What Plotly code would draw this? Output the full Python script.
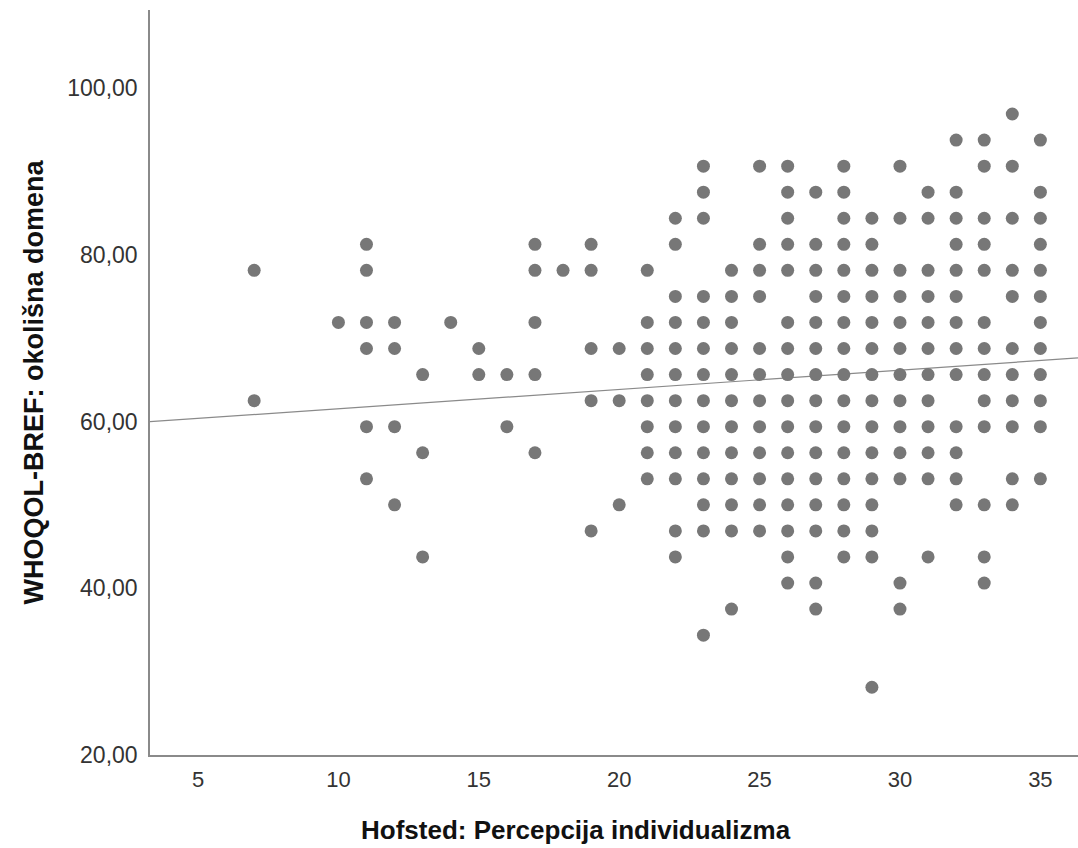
import plotly.graph_objects as go

# Hofsted individualism score (x) -> WHOQOL-BREF environment domain scores (y)
col_07 = [78.125, 62.5]
col_10 = [71.875]
col_11 = [81.25, 78.125, 71.875, 68.75, 59.375, 53.125]
col_12 = [71.875, 68.75, 59.375, 50]
col_13 = [65.625, 56.25, 43.75]
col_14 = [71.875]
col_15 = [68.75, 65.625]
col_16 = [65.625, 59.375]
col_17 = [81.25, 78.125, 71.875, 65.625, 56.25]
col_18 = [78.125]
col_19 = [81.25, 78.125, 68.75, 62.5, 46.875]
col_20 = [68.75, 62.5, 50]
col_21 = [78.125, 71.875, 68.75, 65.625, 62.5, 59.375, 56.25, 53.125]
col_22 = [84.375, 81.25, 75, 71.875, 68.75, 65.625, 62.5, 59.375, 56.25, 53.125, 46.875, 43.75]
col_23 = [90.625, 87.5, 84.375, 75, 71.875, 68.75, 65.625, 62.5, 59.375, 56.25, 53.125, 50, 46.875, 34.375]
col_24 = [78.125, 75, 71.875, 68.75, 65.625, 62.5, 59.375, 56.25, 53.125, 50, 46.875, 37.5]
col_25 = [90.625, 81.25, 78.125, 75, 68.75, 65.625, 62.5, 59.375, 56.25, 53.125, 50, 46.875]
col_26 = [90.625, 87.5, 84.375, 81.25, 78.125, 71.875, 68.75, 65.625, 62.5, 59.375, 56.25, 53.125, 50, 46.875, 43.75, 40.625]
col_27 = [87.5, 81.25, 78.125, 75, 71.875, 68.75, 65.625, 62.5, 59.375, 56.25, 53.125, 50, 46.875, 40.625, 37.5]
col_28 = [90.625, 87.5, 84.375, 81.25, 78.125, 75, 71.875, 68.75, 65.625, 62.5, 59.375, 56.25, 53.125, 50, 46.875, 43.75]
col_29 = [84.375, 81.25, 78.125, 75, 71.875, 68.75, 65.625, 62.5, 59.375, 56.25, 53.125, 50, 46.875, 43.75, 28.125]
col_30 = [90.625, 84.375, 78.125, 75, 71.875, 68.75, 65.625, 62.5, 59.375, 56.25, 53.125, 40.625, 37.5]
col_31 = [87.5, 84.375, 78.125, 75, 71.875, 68.75, 65.625, 62.5, 59.375, 56.25, 53.125, 43.75]
col_32 = [93.75, 87.5, 84.375, 81.25, 78.125, 75, 71.875, 68.75, 65.625, 59.375, 56.25, 53.125, 50]
col_33 = [93.75, 90.625, 84.375, 81.25, 78.125, 71.875, 68.75, 65.625, 62.5, 59.375, 50, 43.75, 40.625]
col_34 = [96.875, 90.625, 84.375, 78.125, 75, 68.75, 65.625, 62.5, 59.375, 53.125, 50]
col_35 = [93.75, 87.5, 84.375, 81.25, 78.125, 75, 71.875, 68.75, 65.625, 62.5, 59.375, 53.125]

x_levels = [7, 10, 11, 12, 13, 14, 15, 16, 17, 18, 19, 20, 21, 22, 23, 24, 25,
            26, 27, 28, 29, 30, 31, 32, 33, 34, 35]
columns = [col_07, col_10, col_11, col_12, col_13, col_14, col_15, col_16, col_17,
           col_18, col_19, col_20, col_21, col_22, col_23, col_24, col_25, col_26,
           col_27, col_28, col_29, col_30, col_31, col_32, col_33, col_34, col_35]

# Fit line (from the reference)
fit_intercept = 59.21
fit_slope = 0.2315

x_ticks = [5, 10, 15, 20, 25, 30, 35]
y_ticks = [20, 40, 60, 80, 100]
y_tick_labels = ["20,00", "40,00", "60,00", "80,00", "100,00"]

x_range = [3.29, 36.34]
y_range = [20, 109.35]

x_title = "Hofsted: Percepcija individualizma"
y_title = "WHOQOL-BREF: okolišna domena"

xs, ys = [], []
for xv, col in zip(x_levels, columns):
    for yv in col:
        xs.append(xv)
        ys.append(yv)

fig = go.Figure()
fig.add_trace(go.Scatter(
    x=[x_range[0], x_range[1]],
    y=[fit_intercept + fit_slope * x_range[0], fit_intercept + fit_slope * x_range[1]],
    mode="lines", line=dict(color="#8a8a8a", width=1.2),
    hoverinfo="skip", showlegend=False))
fig.add_trace(go.Scatter(
    x=xs, y=ys, mode="markers",
    marker=dict(size=13, color="#777777", line=dict(width=0)),
    showlegend=False))

font_family = "Liberation Sans, Arial, sans-serif"
fig.update_layout(
    width=1078, height=848,
    margin=dict(l=150, r=0, t=10, b=93),
    paper_bgcolor="white", plot_bgcolor="white",
    font=dict(family=font_family, color="#333333"),
    xaxis=dict(range=x_range, tickvals=x_ticks, ticks="", showgrid=False,
               zeroline=False, showline=True, linecolor="#8a8a8a", linewidth=1.5,
               tickfont=dict(size=22, color="#333333"), ticklabelstandoff=4),
    yaxis=dict(range=y_range, tickvals=y_ticks, ticktext=y_tick_labels, ticks="",
               showgrid=False, zeroline=False, showline=True, linecolor="#8a8a8a",
               linewidth=1.5, tickfont=dict(size=23, color="#333333"),
               ticklabelstandoff=6),
    annotations=[
        dict(text="<b>" + x_title + "</b>", xref="paper", yref="paper",
             x=(576 - 150) / 928, y=-(830 - 755) / 745, xanchor="center", yanchor="middle",
             showarrow=False, font=dict(size=26, color="#111111")),
        dict(text="<b>" + y_title + "</b>", xref="paper", yref="paper",
             x=-(150 - 33) / 928, y=0.5, xanchor="center", yanchor="middle",
             textangle=-90, showarrow=False, font=dict(size=27, color="#111111")),
    ],
)
fig.write_html("out.html")
